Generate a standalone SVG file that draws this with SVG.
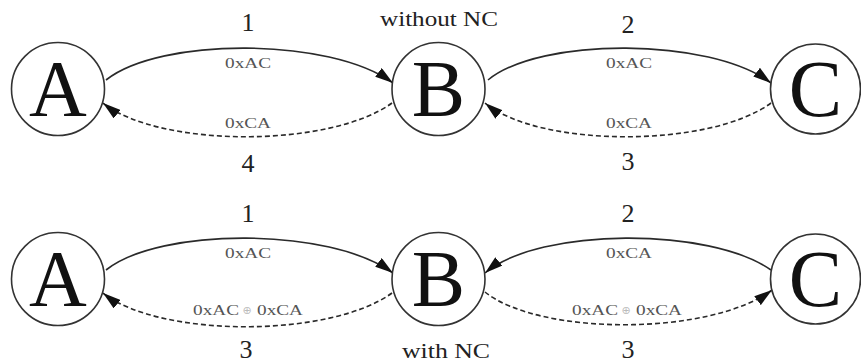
<svg xmlns="http://www.w3.org/2000/svg" width="861" height="363" viewBox="0 0 861 363">
  <style>
    .node circle { fill: #fff; stroke: #333; stroke-width: 1.6; }
    .node text { font-family: "Liberation Serif", serif; font-size: 80px; fill: #111; text-anchor: middle; }
    .edge { fill: none; stroke: #2a2a2a; stroke-width: 1.6; }
    .solid { marker-end: url(#arrow); }
    .dashed { stroke-dasharray: 5 3; marker-end: url(#arrow); }
    .step { font-family: "Liberation Serif", serif; font-size: 26px; fill: #222; text-anchor: middle; }
    .payload { font-family: "Liberation Serif", serif; font-size: 15px; fill: #555; text-anchor: middle; }
    .xor { font-family: "DejaVu Sans", sans-serif; font-size: 11px; fill: #bbb; text-anchor: middle; }
    .title { font-family: "Liberation Serif", serif; font-size: 20px; fill: #222; text-anchor: middle; }
  </style>
  <defs>
    <marker id="arrow" viewBox="0 0 18 11" refX="18" refY="5.5" markerWidth="18" markerHeight="11" markerUnits="userSpaceOnUse" orient="auto">
      <path d="M0,0 L18,5.5 L0,11 Z" fill="#111"/>
    </marker>
  </defs>

  <!-- connectors -->
  <g id="connectors">
    <!-- without network coding -->
    <path class="edge solid" d="M106,80 C160,37 330,37 393,83"/>
    <path class="edge dashed" d="M392,103 C330,148 160,148 103,103"/>
    <path class="edge solid" d="M488,80 C540,37 710,37 771,83"/>
    <path class="edge dashed" d="M771,103 C710,148 540,148 485,103"/>
    <!-- with network coding -->
    <path class="edge solid" d="M106,270 C160,227 330,227 393,273"/>
    <path class="edge dashed" d="M392,293 C330,338 160,338 103,293"/>
    <path class="edge solid" d="M771,270 C710,227 540,227 485,273"/>
    <path class="edge dashed" d="M485,292 C540,336 710,336 772,290"/>
  </g>

  <!-- top row: without NC -->
  <g id="A1" class="node"><circle cx="58" cy="89" r="46.5"/><text x="58" y="116">A</text></g>
  <g id="B1" class="node"><circle cx="438.5" cy="89" r="46.5"/><text x="438.5" y="116">B</text></g>
  <g id="C1" class="node"><circle cx="815.5" cy="89" r="45"/><text x="815.5" y="116">C</text></g>

  <!-- bottom row: with NC -->
  <g id="A2" class="node"><circle cx="58" cy="279" r="46.5"/><text x="58" y="306">A</text></g>
  <g id="B2" class="node"><circle cx="438.5" cy="279" r="46.5"/><text x="438.5" y="306">B</text></g>
  <g id="C2" class="node"><circle cx="815.5" cy="279" r="45"/><text x="815.5" y="306">C</text></g>

  <!-- labels -->
  <g id="labels">
    <text class="title" x="439" y="26" textLength="118" lengthAdjust="spacingAndGlyphs">without NC</text>
    <text class="title" x="446" y="358" textLength="88" lengthAdjust="spacingAndGlyphs">with NC</text>

    <text class="step" x="248" y="31">1</text>
    <text class="payload" x="248" y="68" textLength="46" lengthAdjust="spacingAndGlyphs">0xAC</text>
    <text class="payload" x="248" y="128" textLength="46" lengthAdjust="spacingAndGlyphs">0xCA</text>
    <text class="step" x="248" y="172">4</text>

    <text class="step" x="628" y="33">2</text>
    <text class="payload" x="629" y="68" textLength="46" lengthAdjust="spacingAndGlyphs">0xAC</text>
    <text class="payload" x="629" y="128" textLength="46" lengthAdjust="spacingAndGlyphs">0xCA</text>
    <text class="step" x="628" y="170">3</text>

    <text class="step" x="248" y="222">1</text>
    <text class="payload" x="248" y="258" textLength="46" lengthAdjust="spacingAndGlyphs">0xAC</text>
    <text class="payload" x="216" y="315" textLength="46" lengthAdjust="spacingAndGlyphs">0xAC</text>
    <text class="xor" x="247" y="314">⊕</text>
    <text class="payload" x="280" y="315" textLength="46" lengthAdjust="spacingAndGlyphs">0xCA</text>
    <text class="step" x="246" y="358">3</text>

    <text class="step" x="628" y="222">2</text>
    <text class="payload" x="629" y="258" textLength="46" lengthAdjust="spacingAndGlyphs">0xCA</text>
    <text class="payload" x="595" y="315" textLength="46" lengthAdjust="spacingAndGlyphs">0xAC</text>
    <text class="xor" x="626" y="314">⊕</text>
    <text class="payload" x="659" y="315" textLength="46" lengthAdjust="spacingAndGlyphs">0xCA</text>
    <text class="step" x="628" y="358">3</text>
  </g>
</svg>
